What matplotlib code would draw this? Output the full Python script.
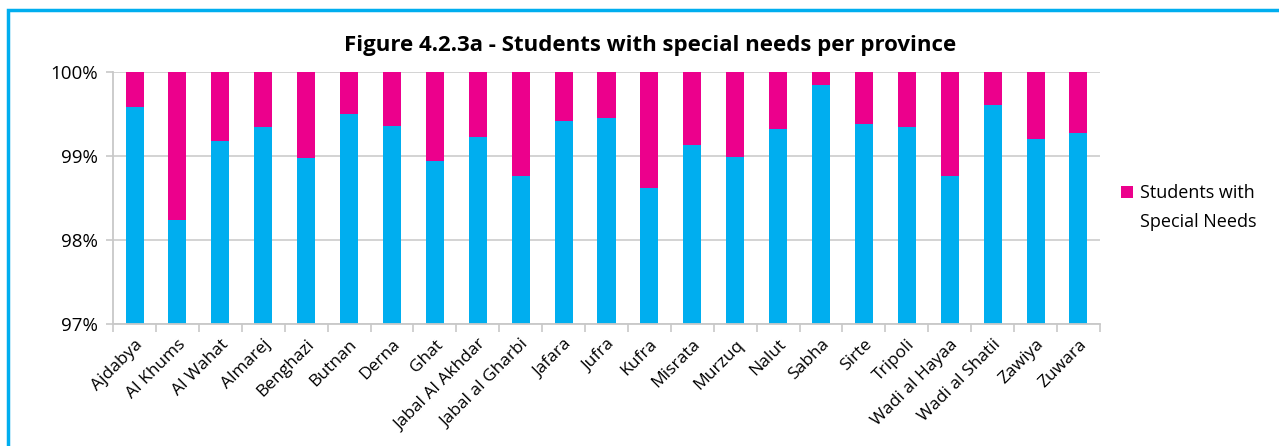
import numpy as np
import matplotlib.pyplot as plt
from matplotlib.patches import Rectangle
from matplotlib.ticker import FuncFormatter

provinces = ["Ajdabya", "Al Khums", "Al Wahat", "Almarej", "Benghazi", "Butnan", "Derna",
             "Ghat", "Jabal Al Akhdar", "Jabal al Gharbi", "Jafara", "Jufra", "Kufra",
             "Misrata", "Murzuq", "Nalut", "Sabha", "Sirte", "Tripoli", "Wadi al Hayaa",
             "Wadi al Shatii", "Zawiya", "Zuwara"]
# share of students without special needs (%)
regular = [99.58, 98.24, 99.18, 99.35, 98.98, 99.50, 99.36,
           98.94, 99.23, 98.76, 99.42, 99.45, 98.62,
           99.13, 98.99, 99.32, 99.85, 99.38, 99.34, 98.76,
           99.61, 99.20, 99.27]
special = [100 - v for v in regular]

plt.rcParams['font.family'] = ['Open Sans', 'DejaVu Sans']

fig = plt.figure(figsize=(12.79, 4.46), dpi=100)
ax = fig.add_axes([0.0884, 0.2735, 0.7716, 0.5651])

x = np.arange(len(provinces))
ax.bar(x, regular, width=0.42, color="#00AEEF", zorder=2)
ax.bar(x, special, bottom=regular, width=0.42, color="#EC008C", zorder=2,
       label="Students with")

ax.set_ylim(97, 100)
ax.set_xlim(-0.5, len(provinces) - 0.5)
ax.set_yticks([97, 98, 99, 100])
ax.yaxis.set_major_formatter(FuncFormatter(lambda v, p: f"{v:.0f}%"))
ax.grid(axis="y", color="#D0D0D0", lw=1.3, zorder=0)

ax.set_xticks(x)
ax.set_xticklabels(provinces, rotation=45, ha="right", rotation_mode="anchor", fontsize=12.5)
ax.set_xticks(np.arange(len(provinces) + 1) - 0.5, minor=True)
ax.tick_params(axis="x", which="major", length=0, pad=9)
ax.tick_params(axis="x", which="minor", length=6, color="#C8C8C8", width=1.2)
ax.tick_params(axis="y", length=5, color="#C8C8C8", width=1.2, labelsize=13.5, pad=6)

for s in ["top", "right"]:
    ax.spines[s].set_visible(False)
for s in ["left", "bottom"]:
    ax.spines[s].set_color("#C8C8C8")
    ax.spines[s].set_linewidth(1.3)

fig.text(0.508, 1 - 46 / 446, "Figure 4.2.3a - Students with special needs per province",
         fontsize=16, fontweight="bold", ha="center", va="center")

# legend: marker sits beside the first line, label wraps onto a second line
leg = fig.legend(loc="center left", bbox_to_anchor=(1121 / 1279, 1 - 193 / 446), frameon=False,
                 fontsize=13, handlelength=0.65, handleheight=0.65, handletextpad=0.4,
                 borderpad=0, borderaxespad=0)
fig.canvas.draw()
tx0 = leg.get_texts()[0].get_window_extent().x0
fig.text(tx0 / fig.bbox.width, 1 - 222 / 446, "Special Needs", fontsize=13, va="center")

fig.patches.append(Rectangle((8 / 1279, -0.1), 1.2, 1 - 9.5 / 446 + 0.1,
                             transform=fig.transFigure, fill=False,
                             edgecolor="#00AEEF", lw=2.5, zorder=10))

fig.savefig("out.png", dpi=100)
